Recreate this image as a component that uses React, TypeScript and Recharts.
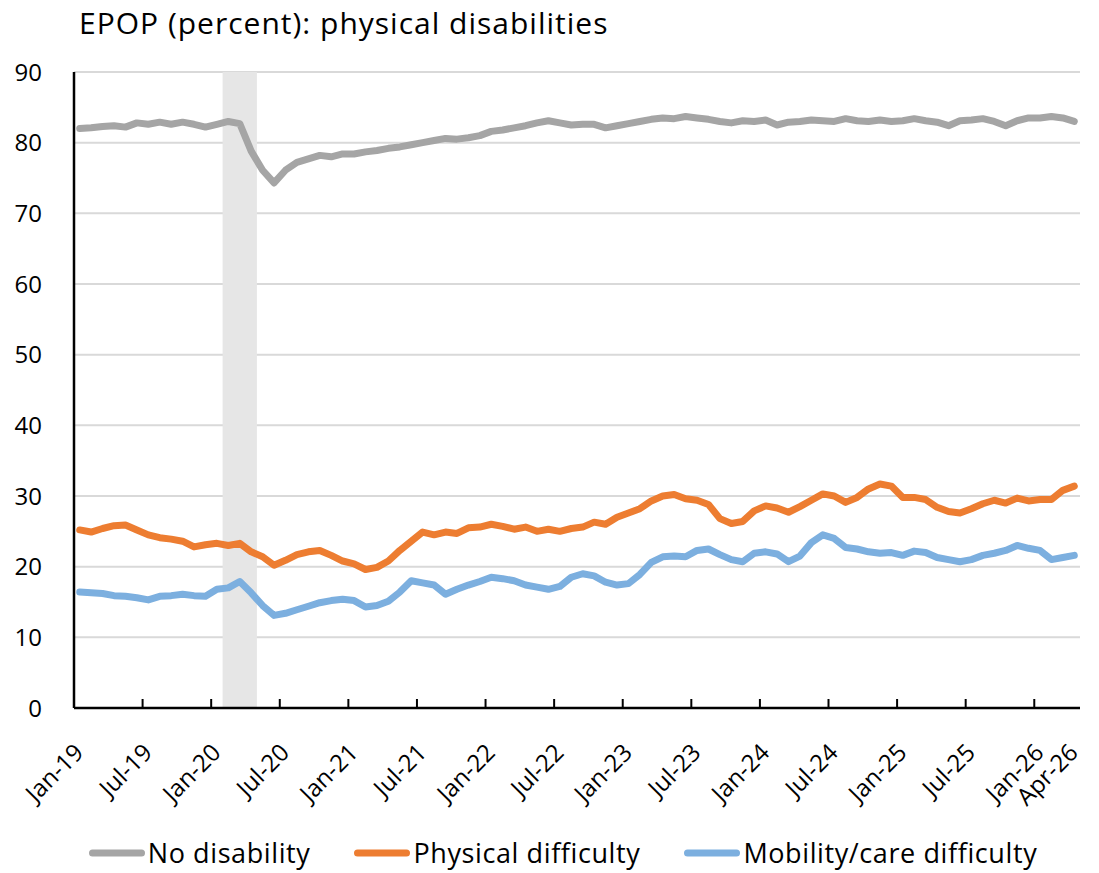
import {
  CartesianGrid,
  Legend,
  Line,
  LineChart,
  ReferenceArea,
  XAxis,
  YAxis,
} from "recharts";

const MONTH_NAMES = ["Jan", "Feb", "Mar", "Apr", "May", "Jun", "Jul", "Aug", "Sep", "Oct", "Nov", "Dec"];
const MONTHS: string[] = [];
for (let yr = 19; yr <= 26; yr++) {
  for (const m of MONTH_NAMES) {
    if (MONTHS.length < 88) MONTHS.push(`${m}-${yr}`);
  }
}

const TICK_LABELS = [
  "Jan-19", "Jul-19", "Jan-20", "Jul-20", "Jan-21", "Jul-21", "Jan-22", "Jul-22",
  "Jan-23", "Jul-23", "Jan-24", "Jul-24", "Jan-25", "Jul-25", "Jan-26", "Apr-26",
];

// shaded recession band: Feb-20 through Apr-20
const RECESSION = ["Feb-20", "Apr-20"];

const NO_DISABILITY = [
  82.0, 82.1, 82.3, 82.4, 82.2, 82.8, 82.6, 82.9, 82.6, 82.9, 82.6, 82.2,
  82.6, 83.0, 82.7, 78.8, 76.1, 74.3, 76.1, 77.2, 77.7, 78.2, 78.0, 78.4,
  78.4, 78.7, 78.9, 79.2, 79.4, 79.7, 80.0, 80.3, 80.6, 80.5, 80.7, 81.0,
  81.6, 81.8, 82.1, 82.4, 82.8, 83.1, 82.8, 82.5, 82.6, 82.6, 82.1, 82.4,
  82.7, 83.0, 83.3, 83.5, 83.4, 83.7, 83.5, 83.3, 83.0, 82.8, 83.1, 83.0,
  83.2, 82.5, 82.9, 83.0, 83.2, 83.1, 83.0, 83.4, 83.1, 83.0, 83.2, 83.0,
  83.1, 83.4, 83.1, 82.9, 82.4, 83.1, 83.2, 83.4, 83.0, 82.4, 83.1, 83.5,
  83.5, 83.7, 83.5, 83.0,
];

const PHYSICAL = [
  25.2, 24.9, 25.4, 25.8, 25.9, 25.2, 24.5, 24.1, 23.9, 23.6, 22.8, 23.1,
  23.3, 23.0, 23.3, 22.1, 21.4, 20.2, 20.9, 21.7, 22.1, 22.3, 21.6, 20.8,
  20.4, 19.6, 19.9, 20.8, 22.3, 23.6, 24.9, 24.5, 24.9, 24.7, 25.5, 25.6,
  26.0, 25.7, 25.3, 25.6, 25.0, 25.3, 25.0, 25.4, 25.6, 26.3, 26.0, 27.0,
  27.6, 28.2, 29.3, 30.0, 30.2, 29.6, 29.4, 28.8, 26.8, 26.1, 26.4, 27.9,
  28.6, 28.3, 27.7, 28.5, 29.4, 30.3, 30.0, 29.1, 29.8, 31.0, 31.7, 31.4,
  29.8, 29.8, 29.5, 28.4, 27.8, 27.6, 28.2, 28.9, 29.4, 29.0, 29.7, 29.3,
  29.5, 29.5, 30.8, 31.4,
];

const MOBILITY = [
  16.4, 16.3, 16.2, 15.9, 15.8, 15.6, 15.3, 15.8, 15.9, 16.1, 15.9, 15.8,
  16.8, 17.0, 17.9, 16.3, 14.5, 13.1, 13.4, 13.9, 14.4, 14.9, 15.2, 15.4,
  15.2, 14.3, 14.5, 15.1, 16.4, 18.0, 17.7, 17.4, 16.1, 16.8, 17.4, 17.9,
  18.5, 18.3, 18.0, 17.4, 17.1, 16.8, 17.2, 18.5, 19.0, 18.7, 17.8, 17.4,
  17.6, 18.9, 20.6, 21.4, 21.5, 21.4, 22.3, 22.5, 21.7, 21.0, 20.7, 21.9,
  22.1, 21.8, 20.7, 21.5, 23.4, 24.5, 24.0, 22.7, 22.5, 22.1, 21.9, 22.0,
  21.6, 22.2, 22.0, 21.3, 21.0, 20.7, 21.0, 21.6, 21.9, 22.3, 23.0, 22.6,
  22.3, 21.0, 21.3, 21.6,
];

const SERIES = [
  { key: "none", name: "No disability", color: "#a5a5a5", values: NO_DISABILITY },
  { key: "physical", name: "Physical difficulty", color: "#ed7d31", values: PHYSICAL },
  { key: "mobility", name: "Mobility/care difficulty", color: "#7cafdf", values: MOBILITY },
];

// each month is plotted in the middle of its slot (Excel date axis, between tick marks)
const data = MONTHS.map((month, i) => {
  const row: Record<string, number | string> = { x: i + 0.5, month };
  SERIES.forEach((s) => (row[s.key] = s.values[i]));
  return row;
});

const FONT = "'Open Sans', sans-serif";

function XTick({ x, y, payload }: any) {
  const label = MONTHS[payload.value];
  const isLast = label === TICK_LABELS[TICK_LABELS.length - 1];
  return (
    <g transform={`translate(${x},${y})`}>
      {!isLast && <line x1={0} y1={0} x2={0} y2={-9} stroke="#000" strokeWidth={2} />}
      <text
        transform="translate(11,46) rotate(-45)"
        textAnchor="end"
        fontSize={24}
        fontFamily={FONT}
        fill="#000"
      >
        {label}
      </text>
    </g>
  );
}

function LegendRow() {
  return (
    <div
      style={{
        display: "flex",
        justifyContent: "center",
        gap: 44,
        paddingLeft: 38,
        fontFamily: FONT,
        fontSize: 27,
        lineHeight: "34px",
        letterSpacing: 0.6,
        color: "#000",
      }}
    >
      {SERIES.map((s) => (
        <div key={s.key} style={{ display: "flex", alignItems: "center" }}>
          <svg width={56} height={10} style={{ marginRight: 3 }}>
            <line x1={3.5} y1={5} x2={52.5} y2={5} stroke={s.color} strokeWidth={7} strokeLinecap="round" />
          </svg>
          <span>{s.name}</span>
        </div>
      ))}
    </div>
  );
}

export default function App() {
  return (
    <div style={{ position: "relative", width: 1083, height: 865 }}>
      <div
        style={{
          position: "absolute",
          left: 71,
          top: -6,
          fontFamily: FONT,
          fontSize: 30,
          letterSpacing: 1,
          color: "#000",
          whiteSpace: "nowrap",
        }}
      >
        EPOP (percent): physical disabilities
      </div>
      <LineChart width={1083} height={865} data={data} margin={{ top: 64, right: 11, bottom: 3, left: 0 }}>
        <CartesianGrid vertical={false} stroke="#d9d9d9" strokeWidth={2} />
        <ReferenceArea
          x1={MONTHS.indexOf(RECESSION[0])}
          x2={MONTHS.indexOf(RECESSION[1]) + 1}
          fill="#e6e6e6"
          fillOpacity={1}
          stroke="none"
        />
        <XAxis
          dataKey="x"
          type="number"
          domain={[0, MONTHS.length]}
          ticks={TICK_LABELS.map((l) => MONTHS.indexOf(l))}
          interval={0}
          tick={<XTick />}
          tickLine={false}
          tickSize={0}
          tickMargin={0}
          height={128}
          axisLine={{ stroke: "#000", strokeWidth: 2.5 }}
        />
        <XAxis
          xAxisId="top"
          orientation="top"
          type="number"
          domain={[0, MONTHS.length]}
          height={0}
          tick={false}
          tickLine={false}
          axisLine={{ stroke: "#000", strokeWidth: 2.5 }}
        />
        <YAxis
          domain={[0, 90]}
          ticks={[0, 10, 20, 30, 40, 50, 60, 70, 80, 90]}
          width={66}
          tickLine={false}
          tickMargin={26}
          axisLine={{ stroke: "#000", strokeWidth: 2.5 }}
          tick={{ fontSize: 24, fill: "#000", fontFamily: FONT }}
        />
        <YAxis
          yAxisId="right"
          orientation="right"
          domain={[0, 90]}
          width={0}
          tick={false}
          tickLine={false}
          axisLine={{ stroke: "#000", strokeWidth: 2.5 }}
        />
        {SERIES.map((s) => (
          <Line
            key={s.key}
            type="linear"
            dataKey={s.key}
            name={s.name}
            stroke={s.color}
            strokeWidth={7}
            strokeLinejoin="round"
            strokeLinecap="round"
            dot={false}
            isAnimationActive={false}
          />
        ))}
        <Legend
          verticalAlign="bottom"
          align="center"
          height={34}
          wrapperStyle={{ bottom: 3 }}
          content={() => <LegendRow />}
        />
      </LineChart>
    </div>
  );
}
